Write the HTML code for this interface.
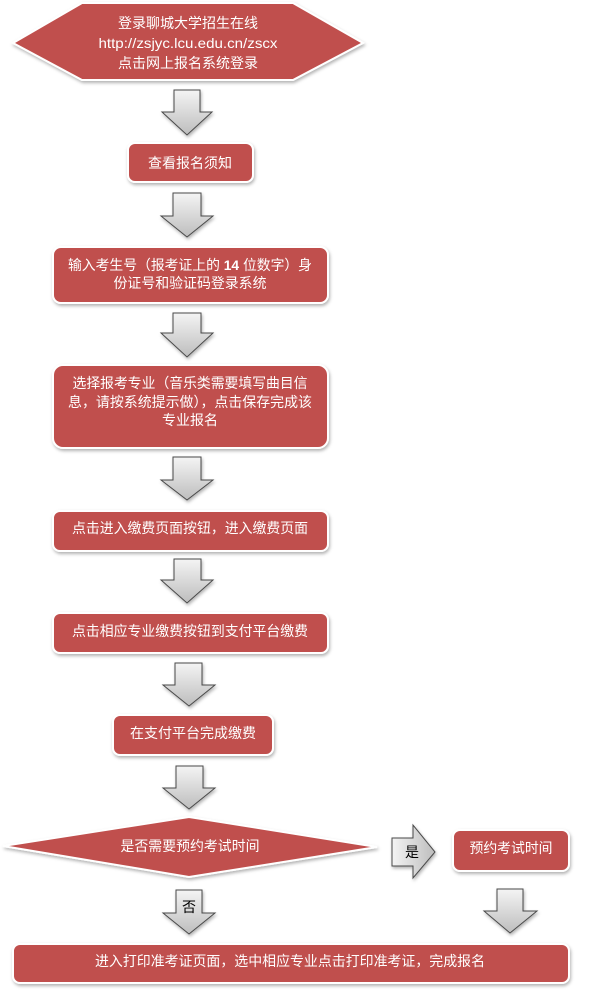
<!DOCTYPE html>
<html>
<head>
<meta charset="utf-8">
<style>
html,body{margin:0;padding:0;background:#ffffff;}
svg{display:block;}
text{font-family:"Liberation Sans","Noto Sans CJK SC",sans-serif;font-size:14px;}
.w{fill:#ffffff;}
.b{fill:#000000;}
</style>
</head>
<body>
<svg width="600" height="991" viewBox="0 0 600 991" xmlns="http://www.w3.org/2000/svg">
<defs>
<filter id="sh" x="-10%" y="-20%" width="120%" height="150%">
<feDropShadow dx="1" dy="2" stdDeviation="1.5" flood-color="#000" flood-opacity="0.3"/>
</filter>
<linearGradient id="gv" x1="0" y1="0" x2="0" y2="1">
<stop offset="0" stop-color="#f4f4f4"/>
<stop offset="1" stop-color="#bdbdbd"/>
</linearGradient>
<linearGradient id="gh" x1="0" y1="0" x2="1" y2="0">
<stop offset="0" stop-color="#f4f4f4"/>
<stop offset="1" stop-color="#bdbdbd"/>
</linearGradient>
</defs>

<g fill="#c0504d" stroke="#ffffff" stroke-width="2" filter="url(#sh)">
<polygon points="13,43 82,3 293,3 363,43 293,80 82,80"/>
<rect x="128" y="143" width="125" height="39" rx="7"/>
<rect x="53" y="247" width="275" height="56" rx="8"/>
<rect x="53" y="365" width="275" height="83" rx="10"/>
<rect x="53" y="511" width="275" height="40" rx="7"/>
<rect x="53" y="613" width="275" height="40" rx="7"/>
<rect x="113" y="715" width="160" height="40" rx="7"/>
<polygon points="3,846 189,817 377,847 189,877"/>
<rect x="453" y="830" width="116" height="41" rx="7"/>
<rect x="13" y="944" width="556" height="39" rx="7"/>
</g>

<g stroke="#4a4a4a" stroke-width="1" filter="url(#sh)">
<path fill="url(#gv)" d="M174,90 L200,90 L200,112 L212,112 L187,135 L162,112 L174,112 Z"/>
<path fill="url(#gv)" d="M173,193 L201,193 L201,216 L213,216 L187,237 L161,216 L173,216 Z"/>
<path fill="url(#gv)" d="M173,313 L201,313 L201,333 L213,333 L187,357 L161,333 L173,333 Z"/>
<path fill="url(#gv)" d="M173,457 L201,457 L201,480 L213,480 L187,500 L161,480 L173,480 Z"/>
<path fill="url(#gv)" d="M174,559 L201,559 L201,580 L213,580 L187,603 L161,580 L174,580 Z"/>
<path fill="url(#gv)" d="M175,663 L202,663 L202,685 L215,685 L189,706 L163,685 L175,685 Z"/>
<path fill="url(#gv)" d="M176,766 L203,766 L203,788 L215,788 L189,809 L163,788 L176,788 Z"/>
<path fill="url(#gh)" d="M392,838 L413,838 L413,825 L435,852 L413,878 L413,866 L392,866 Z"/>
<path fill="url(#gv)" d="M176,890 L202,890 L202,913 L215,913 L189,934 L163,913 L176,913 Z"/>
<path fill="url(#gv)" d="M497,889 L523,889 L523,911 L537,911 L510,933 L484,911 L497,911 Z"/>
</g>

<g class="w" text-anchor="middle" dominant-baseline="central">
<text x="188" y="23" textLength="140" lengthAdjust="spacingAndGlyphs">登录聊城大学招生在线</text>
<text x="188" y="43" textLength="179" lengthAdjust="spacingAndGlyphs">http://zsjyc.lcu.edu.cn/zscx</text>
<text x="188" y="63" textLength="140" lengthAdjust="spacingAndGlyphs">点击网上报名系统登录</text>

<text x="190" y="163" textLength="84" lengthAdjust="spacingAndGlyphs">查看报名须知</text>

<text x="190" y="265" textLength="244" lengthAdjust="spacingAndGlyphs">输入考生号（报考证上的 <tspan font-weight="bold">14</tspan> 位数字）身</text>
<text x="190" y="283" textLength="153" lengthAdjust="spacingAndGlyphs">份证号和验证码登录系统</text>

<text x="190" y="383" textLength="235" lengthAdjust="spacingAndGlyphs">选择报考专业（音乐类需要填写曲目信</text>
<text x="190" y="402" textLength="244" lengthAdjust="spacingAndGlyphs">息，请按系统提示做），点击保存完成该</text>
<text x="190" y="420" textLength="56" lengthAdjust="spacingAndGlyphs">专业报名</text>

<text x="190" y="528" textLength="236" lengthAdjust="spacingAndGlyphs">点击进入缴费页面按钮，进入缴费页面</text>
<text x="190" y="631" textLength="236" lengthAdjust="spacingAndGlyphs">点击相应专业缴费按钮到支付平台缴费</text>
<text x="193" y="733" textLength="126" lengthAdjust="spacingAndGlyphs">在支付平台完成缴费</text>

<text x="190" y="846" textLength="139" lengthAdjust="spacingAndGlyphs">是否需要预约考试时间</text>
<text x="511" y="848" textLength="83" lengthAdjust="spacingAndGlyphs">预约考试时间</text>

<text x="290" y="961" textLength="390" lengthAdjust="spacingAndGlyphs">进入打印准考证页面，选中相应专业点击打印准考证，完成报名</text>
</g>

<g class="b" text-anchor="middle" dominant-baseline="central">
<text x="412" y="852">是</text>
<text x="189" y="907">否</text>
</g>
</svg>
</body>
</html>
